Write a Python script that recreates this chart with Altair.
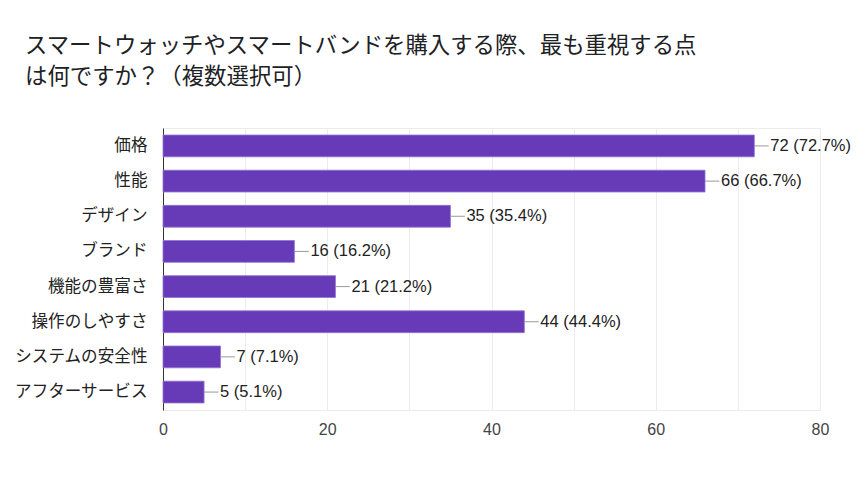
import altair as alt
import pandas as pd

categories = ["価格", "性能", "デザイン", "ブランド", "機能の豊富さ", "操作のしやすさ", "システムの安全性", "アフターサービス"]
counts = [72, 66, 35, 16, 21, 44, 7, 5]
percents = ["72.7%", "66.7%", "35.4%", "16.2%", "21.2%", "44.4%", "7.1%", "5.1%"]
x_ticks = [0, 10, 20, 30, 40, 50, 60, 70, 80]
title_lines = ["スマートウォッチやスマートバンドを購入する際、最も重視する点", "は何ですか？（複数選択可）"]

df = pd.DataFrame({"cat": categories, "n": counts, "pct": percents})
df["label"] = [f"{n} ({p})" for n, p in zip(counts, percents)]

JP = "Noto Sans CJK JP"
LAT = "Liberation Sans, Noto Sans CJK JP"

y_enc = alt.Y("cat:N", sort=categories, title=None,
              scale=alt.Scale(paddingInner=0.38, paddingOuter=0.2),
              axis=alt.Axis(labelFont=JP, labelFontSize=16.6, labelColor="#222222",
                            ticks=False, labelPadding=16, domainColor="#333333",
                            domainWidth=1, grid=False))
x_scale = alt.Scale(domain=[0, 80], nice=False)

bars = alt.Chart(df).mark_bar(color="#673ab7", stroke="#8f73d3", strokeWidth=0.8).encode(
    x=alt.X("n:Q", scale=x_scale, title=None,
            axis=alt.Axis(values=x_ticks, labelExpr="datum.value % 20 == 0 ? datum.label : ''",
                          labelFont=LAT, labelFontSize=16, labelColor="#444444",
                          labelFlush=False, ticks=False, domain=False, grid=True,
                          gridColor="#ececec", labelPadding=11)),
    y=y_enc,
)

conn = alt.Chart(df).transform_calculate(n2="datum.n + 1.75").mark_rule(
    color="#999999", strokeWidth=1).encode(
    x=alt.X("n:Q", scale=x_scale),
    x2="n2:Q",
    y=alt.Y("cat:N", sort=categories, bandPosition=0.5),
)

text = alt.Chart(df).mark_text(align="left", baseline="middle", dx=16, font=LAT,
                               fontSize=16.5, color="#222222").encode(
    x=alt.X("n:Q", scale=x_scale),
    y=alt.Y("cat:N", sort=categories),
    text="label:N",
)

chart = alt.layer(bars, conn, text).properties(
    width=657, height=282,
    autosize=alt.AutoSizeParams(type="none"),
    padding={"left": 155, "top": 120, "right": 39, "bottom": 82},
    title=alt.TitleParams(text=title_lines, anchor="start", frame="group", dx=-138,
                          offset=40, font=JP, fontSize=22.4, fontWeight="normal",
                          color="#202124", lineHeight=31),
).configure_view(stroke="#ececec")

chart.save("out.html", embed_options={"renderer": "svg", "actions": False})
